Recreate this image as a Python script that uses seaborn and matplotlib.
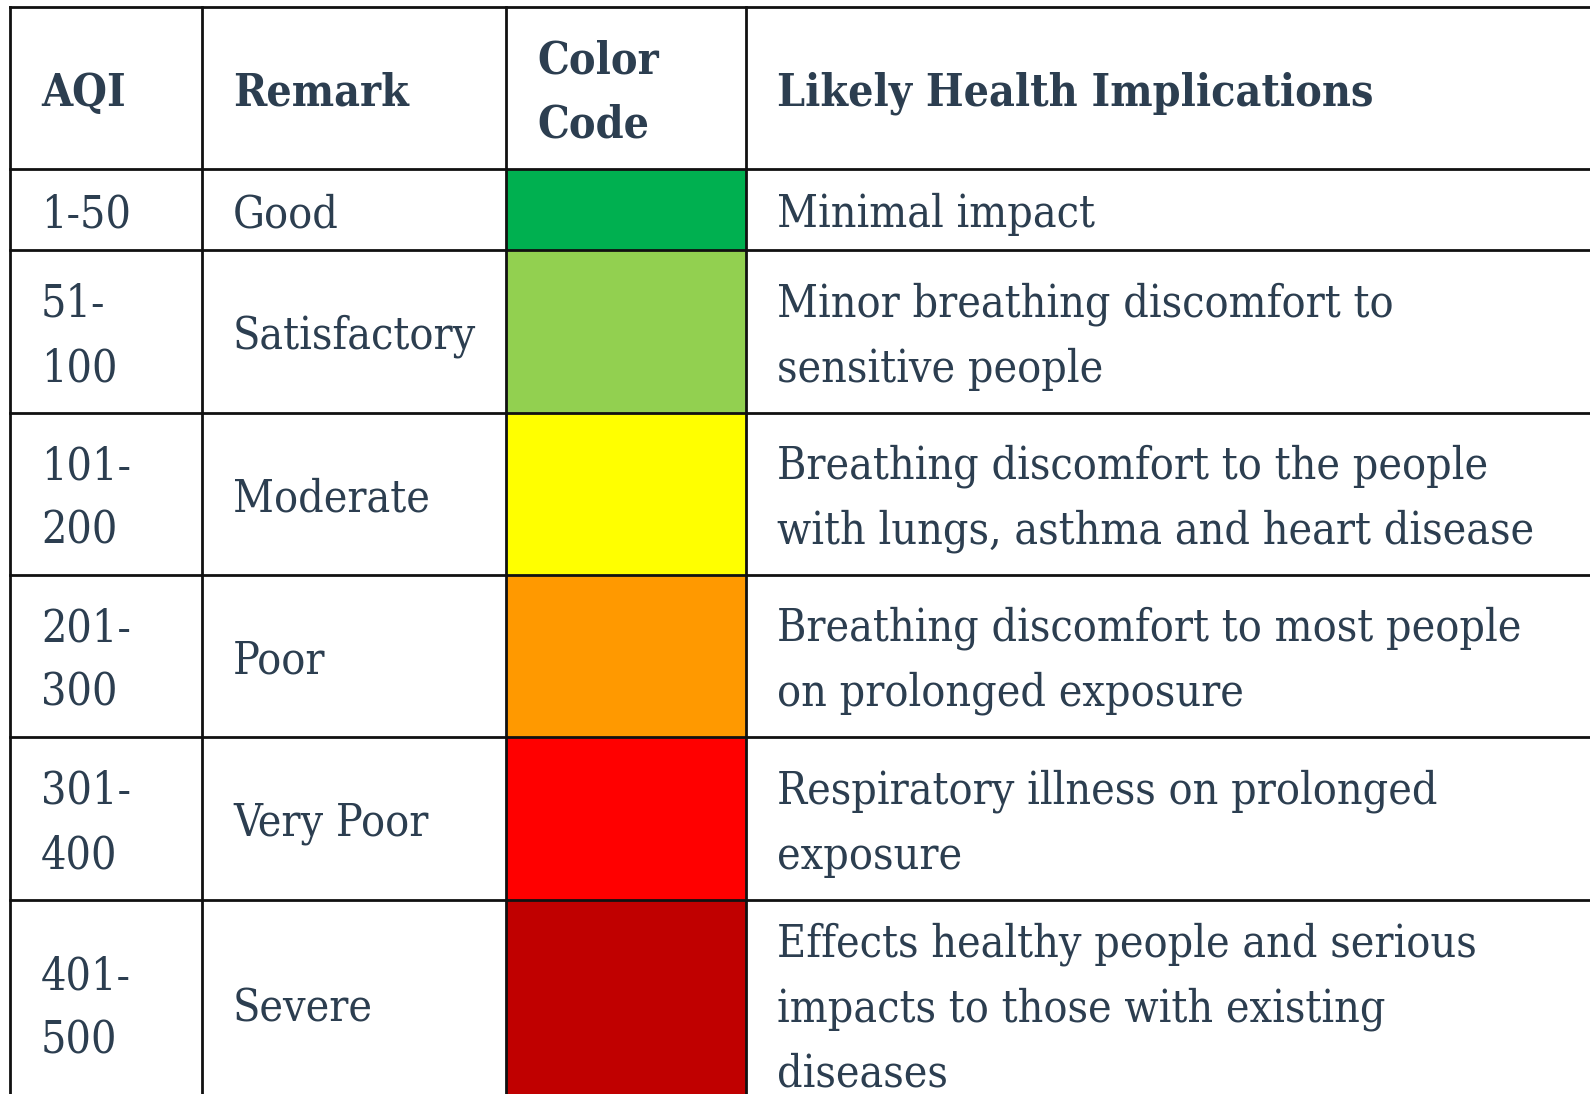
import matplotlib
matplotlib.use("Agg")
import matplotlib.pyplot as plt
from matplotlib.patches import Rectangle
import seaborn as sns

sns.set_theme(style="white")

# table content
headers = ["AQI", "Remark", "Color\nCode", "Likely Health Implications"]
aqi = ["1-50", "51-\n100", "101-\n200", "201-\n300", "301-\n400", "401-\n500"]
remarks = ["Good", "Satisfactory", "Moderate", "Poor", "Very Poor", "Severe"]
colors = ["#00b050", "#92d050", "#ffff00", "#ff9900", "#ff0000", "#c00000"]
implications = [
    "Minimal impact",
    "Minor breathing discomfort to\nsensitive people",
    "Breathing discomfort to the people\nwith lungs, asthma and heart disease",
    "Breathing discomfort to most people\non prolonged exposure",
    "Respiratory illness on prolonged\nexposure",
    "Effects healthy people and serious\nimpacts to those with existing\ndiseases",
]

# layout in pixels
col_x = [10, 202, 506, 746, 1600]
row_y = [7, 169, 250, 413, 575, 737, 900, 1108]
pad = 31
text_col = "#2c3e50"
font = "DejaVu Serif"
fsize = 32

fig = plt.figure(figsize=(15.9, 10.94), dpi=100)
ax = fig.add_axes([0, 0, 1, 1])
ax.set_xlim(0, 1590)
ax.set_ylim(1094, 0)
ax.axis("off")

# colour cells
for i, c in enumerate(colors):
    y0, y1 = row_y[i + 1], row_y[i + 2]
    ax.add_patch(Rectangle((col_x[2], y0), col_x[3] - col_x[2], y1 - y0,
                           facecolor=c, edgecolor="none", zorder=1))

# grid lines
lw = 2.0
for y in row_y[:-1]:
    ax.plot([col_x[0], col_x[-1]], [y, y], color="#111111", lw=lw, zorder=3,
            solid_capstyle="projecting")
for x in col_x[:-1]:
    ax.plot([x, x], [row_y[0], row_y[-1]], color="#111111", lw=lw, zorder=3,
            solid_capstyle="projecting")

def cell_text(col, row, s, bold=False):
    yc = (row_y[row] + row_y[row + 1]) / 2 + 5
    ax.text(col_x[col] + pad, yc, s, ha="left", va="center",
            fontsize=fsize, color=text_col, family=font, stretch="condensed",
            fontweight="bold" if bold else "normal", linespacing=1.62, zorder=4)

for j, h in enumerate(headers):
    cell_text(j, 0, h, bold=True)

for i in range(len(aqi)):
    cell_text(0, i + 1, aqi[i])
    cell_text(1, i + 1, remarks[i])
    cell_text(3, i + 1, implications[i])

fig.savefig("out.png", dpi=100)
